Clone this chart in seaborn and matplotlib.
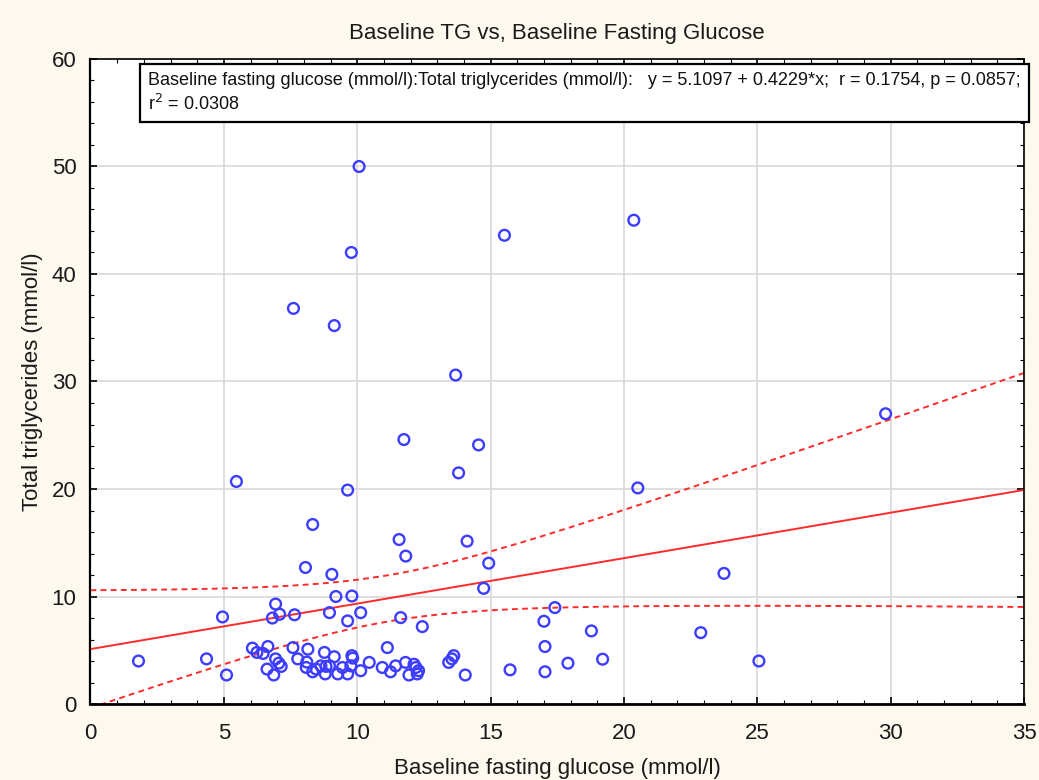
import numpy as np
import pandas as pd
import matplotlib
matplotlib.use("Agg")
import matplotlib.pyplot as plt
from matplotlib.ticker import MultipleLocator
import seaborn as sns

# ---- data ----
glucose = [1.8, 4.35, 4.95, 5.1, 5.47, 6.07, 6.24, 6.47, 6.65, 6.62, 6.87, 6.94, 7.06, 7.15,
           6.94, 6.82, 7.09, 7.65, 7.59, 7.77, 8.06, 8.15, 8.11, 8.09, 8.33, 8.46, 8.64, 8.8,
           8.83, 8.77, 8.96, 9.05, 9.2, 9.8, 9.64, 10.13, 9.14, 8.96, 9.27, 9.45, 9.64, 9.76,
           9.8, 9.83, 10.13, 10.45, 11.13, 10.94, 11.25, 11.44, 11.63, 12.44, 11.81, 11.94,
           12.13, 12.2, 12.3, 12.25, 13.43, 13.55, 13.62, 14.05, 14.93, 14.74, 15.73, 17.0,
           17.04, 17.04, 17.41, 17.9, 18.78, 19.2, 22.88, 23.75, 25.06, 9.64, 11.75, 14.55,
           13.8, 8.33, 11.57, 11.82, 14.12, 10.07, 9.78, 7.61, 9.14, 13.69, 15.52, 20.37,
           20.52, 29.81]
triglycerides = [4.0, 4.2, 8.1, 2.7, 20.7, 5.2, 4.8, 4.7, 5.35, 3.25, 2.7, 4.2, 3.8, 3.5,
                 9.3, 8.0, 8.35, 8.3, 5.25, 4.2, 12.7, 5.1, 3.9, 3.4, 3.0, 3.25, 3.55, 2.8,
                 3.5, 4.8, 8.5, 12.06, 10.0, 10.05, 7.73, 8.5, 4.4, 3.55, 2.8, 3.4, 2.8, 3.55,
                 4.5, 4.27, 3.1, 3.87, 5.25, 3.4, 3.0, 3.55, 8.04, 7.2, 3.87, 2.7,
                 3.7, 3.4, 3.1, 2.8, 3.87, 4.2, 4.5, 2.7, 13.1, 10.76, 3.18, 7.7,
                 5.35, 3.0, 8.97, 3.8, 6.8, 4.17, 6.64, 12.15, 4.0, 19.9, 24.6, 24.1,
                 21.5, 16.7, 15.3, 13.76, 15.15, 50.0, 42.0, 36.8, 35.2, 30.6, 43.6, 45.0,
                 20.1, 27.0]

# regression stated in the reference
intercept = 5.1097
slope = 0.4229
r_value = 0.1754
p_value = 0.0857
r2_value = 0.0308

title = "Baseline TG vs, Baseline Fasting Glucose"
x_label = "Baseline fasting glucose (mmol/l)"
y_label = "Total triglycerides (mmol/l)"

# ---- style ----
sns.set_theme(style="white")
plt.rcParams['font.family'] = ['Liberation Sans Narrow', 'Liberation Sans', 'DejaVu Sans']

bg = "#fef9ee"
fig = plt.figure(figsize=(10.39, 7.80), dpi=100, facecolor=bg)
L, R, B, T = 0.0871, 0.9856, 0.0974, 0.9244
ax = fig.add_axes([L, B, R - L, T - B])
ax.set_facecolor("white")

df = pd.DataFrame({"glucose": glucose, "tg": triglycerides})

# regression line and 95% confidence band
x = np.asarray(glucose, float)
y = np.asarray(triglycerides, float)
n = len(x)
xs = np.linspace(0, 35, 300)
yhat = intercept + slope * xs
resid = y - (intercept + slope * x)
s = np.sqrt(np.sum(resid ** 2) / (n - 2))
xbar = x.mean()
sxx = np.sum((x - xbar) ** 2)
tcrit = 1.986
half = tcrit * s * np.sqrt(1.0 / n + (xs - xbar) ** 2 / sxx)

line_color = "#ff2a2a"
sns.lineplot(x=xs, y=yhat, ax=ax, color=line_color, lw=1.4, zorder=2)
sns.lineplot(x=xs, y=yhat + half, ax=ax, color=line_color, lw=1.4, linestyle=(0, (3, 2.2)), zorder=2)
sns.lineplot(x=xs, y=yhat - half, ax=ax, color=line_color, lw=1.4, linestyle=(0, (3, 2.2)), zorder=2)

sns.scatterplot(data=df, x="glucose", y="tg", ax=ax, marker="o", s=60,
                facecolor="none", edgecolor="#3d3dff", linewidth=1.7, zorder=3)

ax.set_xlim(0, 35)
ax.set_ylim(0, 60)
ax.xaxis.set_major_locator(MultipleLocator(5))
ax.xaxis.set_minor_locator(MultipleLocator(1))
ax.yaxis.set_major_locator(MultipleLocator(10))
ax.yaxis.set_minor_locator(MultipleLocator(2))
ax.grid(True, which="major", color="#d9d9d9", lw=1.2, zorder=0)
ax.set_axisbelow(True)
ax.tick_params(which="both", direction="in", top=True, right=True, bottom=True, left=True,
               color="black", labelsize=16, labelcolor="#1a1a1a")
ax.tick_params(axis="x", which="both", pad=14)
ax.tick_params(axis="y", which="both", pad=10)
ax.tick_params(which="major", length=5, width=1.2)
ax.tick_params(which="minor", length=3, width=0.8)
for sp in ax.spines.values():
    sp.set_color("black")
    sp.set_linewidth(1.2)
ax.spines["bottom"].set_linewidth(2.0)
ax.spines["left"].set_linewidth(1.6)

ax.set_xlabel(x_label, fontsize=16, labelpad=10, color="#1a1a1a")
ax.set_ylabel(y_label, fontsize=16, labelpad=6, color="#1a1a1a")
fig.text(0.5 * (L + R), 0.957, title, ha="center", va="center", fontsize=16, color="#1a1a1a")

ann = (f"Baseline fasting glucose (mmol/l):Total triglycerides (mmol/l):   "
       f"y = {intercept:.4f} + {slope:.4f}*x;  r = {r_value:.4f}, p = {p_value:.4f};\n"
       f"r$^2$ = {r2_value:.4f}")
fig.text(0.1425, (780 - 72) / 780, ann, ha="left", va="top", fontsize=13, color="#111111",
         linespacing=1.3,
         bbox=dict(boxstyle="square,pad=0.45", facecolor="white", edgecolor="black", linewidth=1.6))

fig.savefig("out.png", dpi=100, facecolor=bg)
